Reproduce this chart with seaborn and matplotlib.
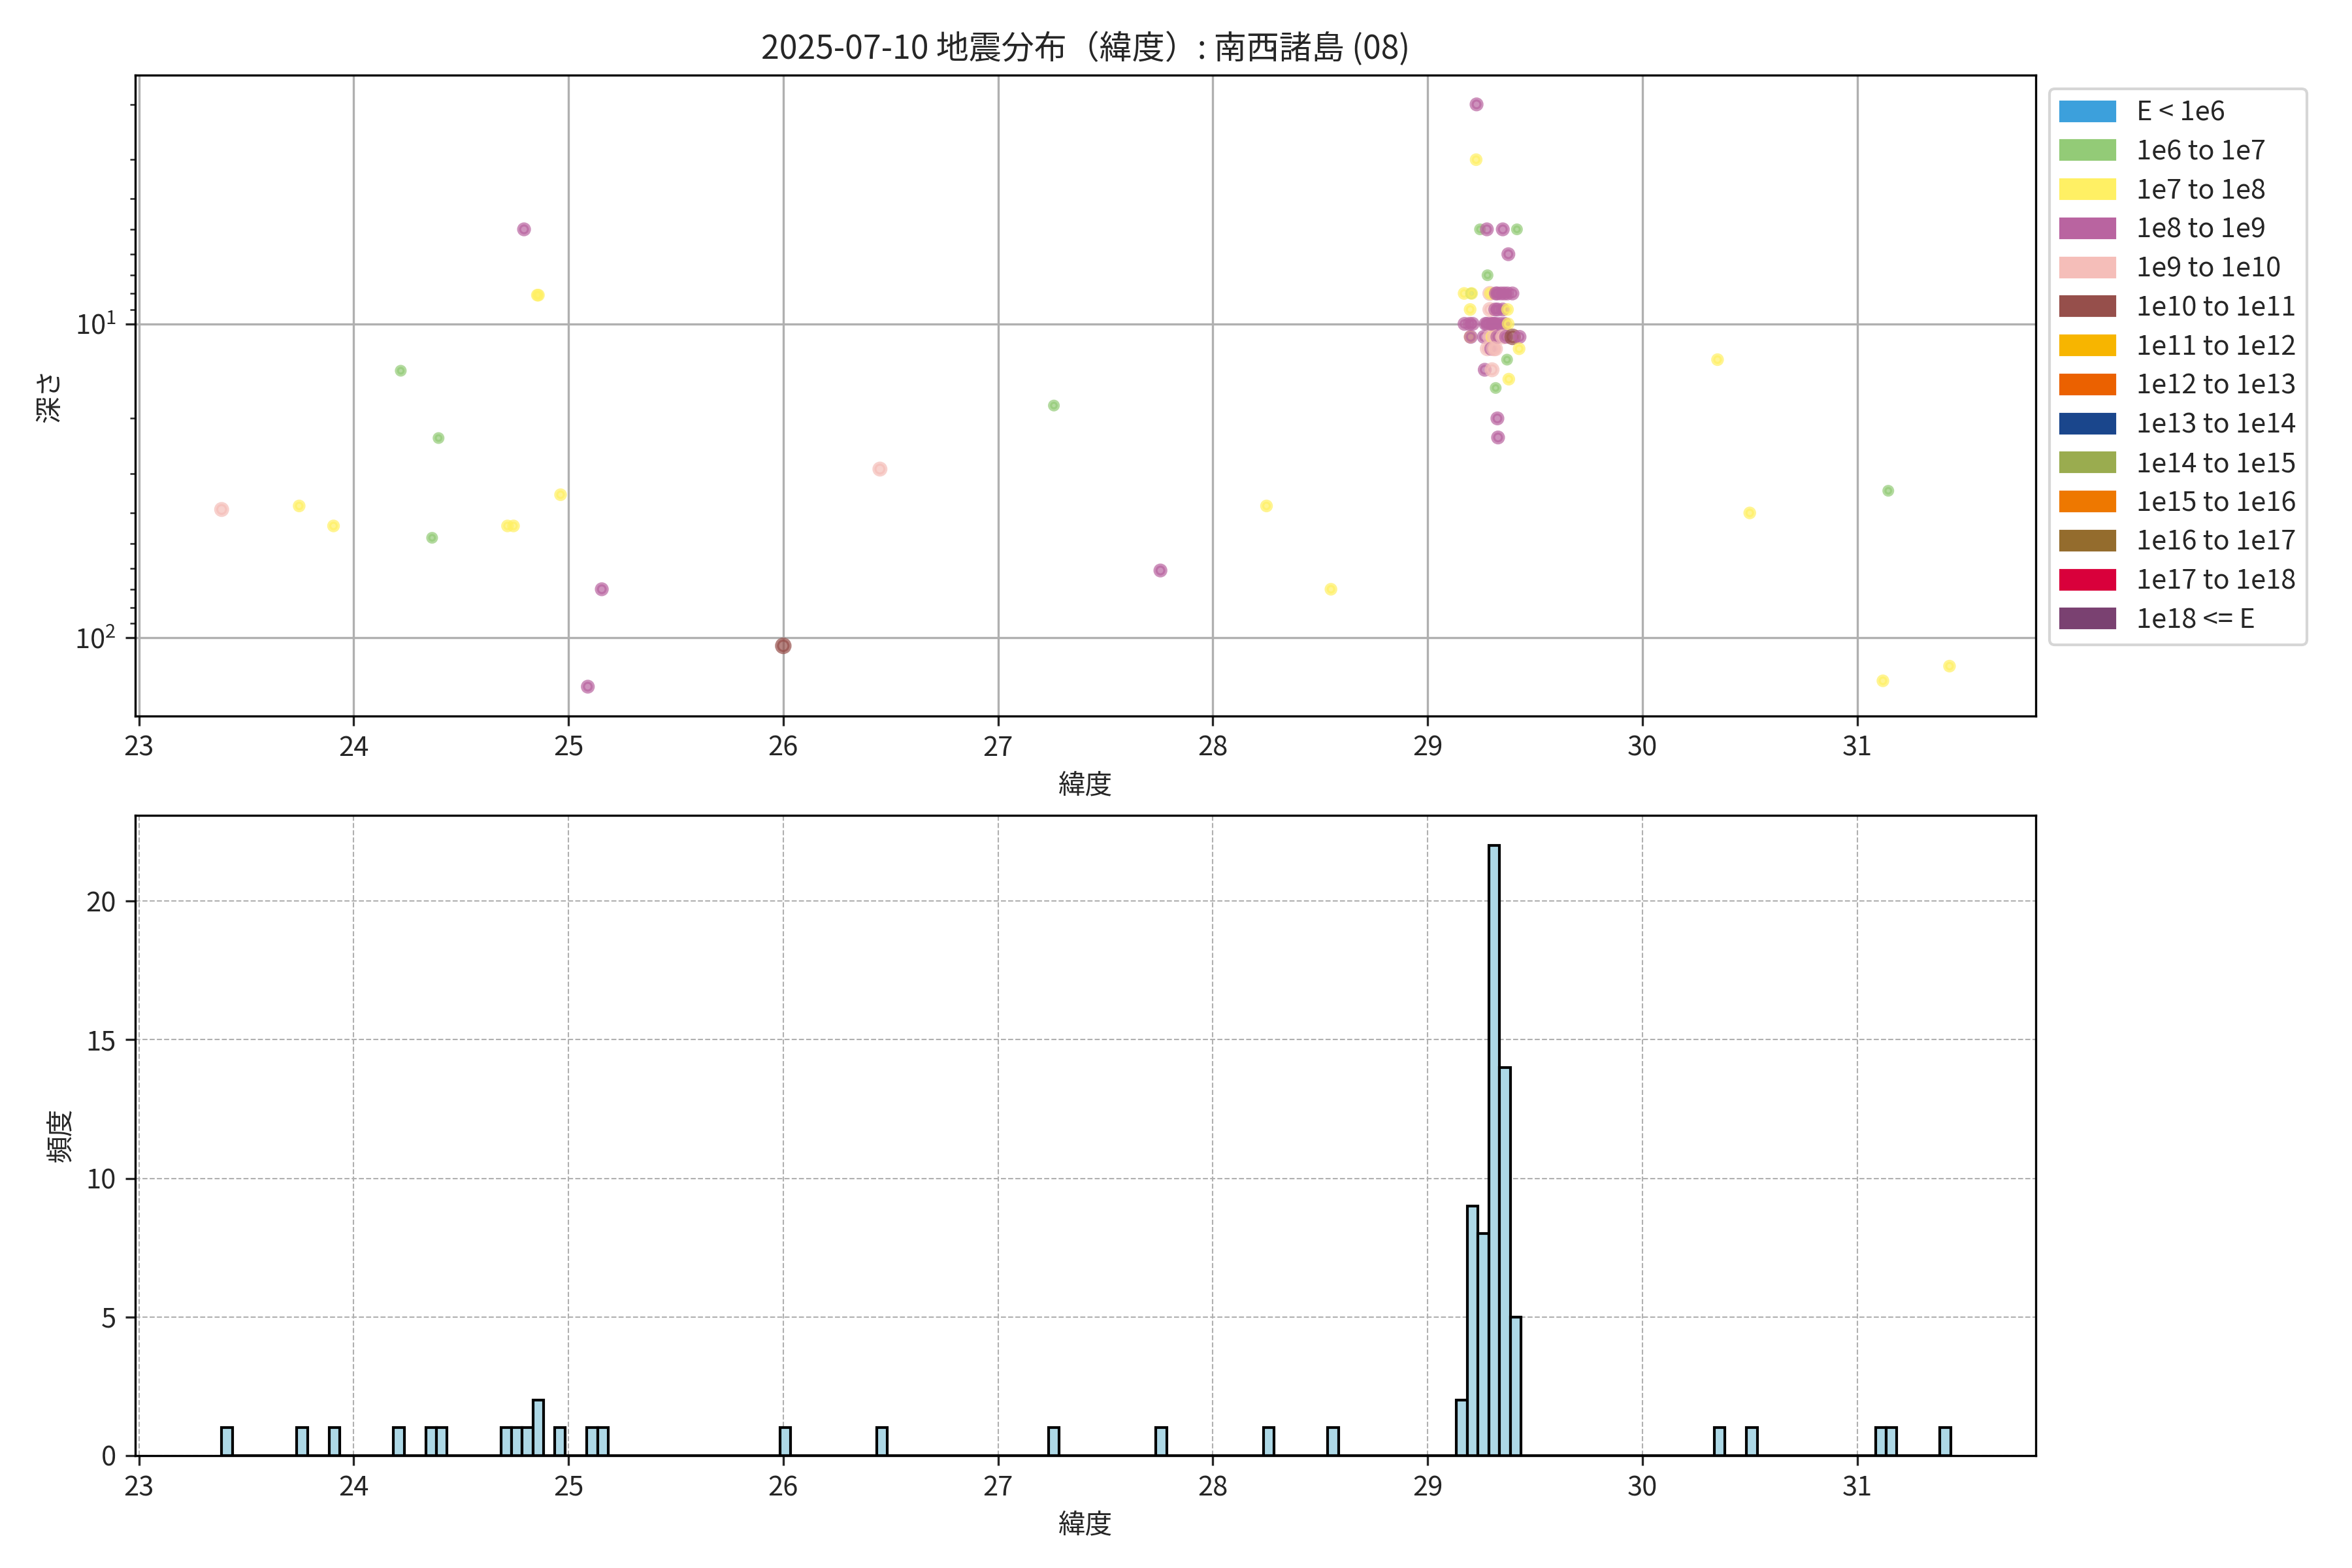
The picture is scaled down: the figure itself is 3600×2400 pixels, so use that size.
import numpy as np
import pandas as pd
import matplotlib
matplotlib.use("Agg")
import matplotlib.pyplot as plt
from matplotlib.patches import Patch
import seaborn as sns

# エネルギー階級のラベルと色
energy_labels = ["E < 1e6", "1e6 to 1e7", "1e7 to 1e8", "1e8 to 1e9", "1e9 to 1e10",
                 "1e10 to 1e11", "1e11 to 1e12", "1e12 to 1e13", "1e13 to 1e14",
                 "1e14 to 1e15", "1e15 to 1e16", "1e16 to 1e17", "1e17 to 1e18", "1e18 <= E"]
energy_colors = ["#3ca0dc", "#93cb77", "#fff064", "#b964a0", "#f5beb9",
                 "#964f4b", "#f7b500", "#eb6100", "#1a468c",
                 "#9aac4f", "#ee7800", "#946c2d", "#d9003b", "#7a4171"]

# 震源データ（緯度・深さ・エネルギー階級）
lat = [23.385, 23.746, 23.906, 24.219, 24.365, 24.395, 24.716, 24.744, 24.793, 24.855,
       24.860, 24.963, 25.090, 25.155, 26.000, 26.450, 27.260, 27.756, 28.250, 28.550,
       29.170, 29.172,
       29.203, 29.198, 29.210, 29.198, 29.201, 29.228, 29.226, 29.195, 29.205,
       29.244, 29.276, 29.262, 29.266, 29.277, 29.278, 29.279, 29.270,
       29.290, 29.292, 29.290, 29.315, 29.310, 29.290, 29.300, 29.296, 29.316, 29.300,
       29.317, 29.325, 29.328, 29.320, 29.305, 29.318, 29.312, 29.325, 29.308, 29.326,
       29.295, 29.325,
       29.342, 29.357, 29.372, 29.350, 29.376, 29.350, 29.372, 29.340, 29.360, 29.375,
       29.350, 29.370, 29.378, 29.365,
       29.416, 29.395, 29.396, 29.428, 29.426,
       30.350, 30.500, 31.120, 31.145, 31.430]
depth = [39, 38, 44, 14.1, 48, 23.1, 44, 44, 5.0, 8.1,
         8.1, 35, 143, 70, 106, 29, 18.2, 61, 38, 70,
         8, 10,
         8, 9, 10, 11, 11, 2, 3, 10, 8,
         5, 5, 11, 14, 10, 12, 7, 10,
         8, 8, 9, 9, 10, 11, 11, 12, 12, 14,
         16, 20, 23, 10, 10, 8, 11, 11, 12, 9,
         10, 8,
         8, 8, 8, 5, 6, 9, 9, 10, 10, 10,
         11, 13, 15, 11,
         5, 8, 11, 11, 12,
         13, 40, 137, 34, 123]
energy_class = [4, 2, 2, 1, 1, 1, 2, 2, 3, 2,
                2, 2, 3, 3, 5, 4, 1, 3, 2, 2,
                2, 3,
                1, 2, 3, 2, 3, 3, 2, 3, 2,
                1, 3, 3, 3, 3, 4, 1, 3,
                4, 2, 4, 3, 3, 4, 2, 3, 4, 4,
                1, 3, 3, 3, 3, 3, 4, 3, 4, 3,
                3, 3,
                3, 3, 3, 3, 3, 3, 2, 3, 3, 2,
                4, 1, 2, 3,
                1, 3, 5, 3, 2,
                2, 2, 2, 1, 2]

df = pd.DataFrame({"lat": lat, "depth": depth,
                   "energy": [energy_labels[c] for c in energy_class]})
palette = dict(zip(energy_labels, energy_colors))
marker_sizes = {energy_labels[1]: 8, energy_labels[2]: 10, energy_labels[3]: 13,
                energy_labels[4]: 16, energy_labels[5]: 21}

sns.set_style("white")
plt.rcParams['font.family'] = ['Noto Sans CJK JP', 'DejaVu Sans']
plt.rcParams['axes.unicode_minus'] = False

fig, (ax1, ax2) = plt.subplots(2, 1, figsize=(12, 8), dpi=300)
fig.subplots_adjust(left=0.0575, right=0.8656, top=0.952, bottom=0.0717, hspace=0.155)

# 上段：緯度と深さの散布図
sns.scatterplot(data=df, x="lat", y="depth", hue="energy", palette=palette,
                size="energy", sizes=marker_sizes, alpha=0.7,
                edgecolor="face", linewidth=1.5, legend=False, ax=ax1)
ax1.set_yscale("log")
ax1.invert_yaxis()
ax1.grid(True, color="#b0b0b0", linewidth=0.8)
ax1.set_title("2025-07-10 地震分布（緯度）: 南西諸島 (08)", fontsize=12)
ax1.set_xlabel("緯度")
ax1.set_ylabel("深さ")
ax1.tick_params(axis="both", which="both", direction="out", left=True, bottom=True)
for s in ax1.spines.values():
    s.set_color("black")
    s.set_linewidth(0.8)

handles = [Patch(color=c, label=l) for l, c in zip(energy_labels, energy_colors)]
ax1.legend(handles=handles, loc="upper left", bbox_to_anchor=(1.0, 1.0),
           fontsize=10, labelspacing=0.45)

# 下段：緯度のヒストグラム（0.05度刻み）
bin_edges = np.arange(min(lat), max(lat) + 0.05, 0.05)
sns.histplot(x=lat, bins=bin_edges, color="lightblue", edgecolor="black",
             linewidth=1.0, alpha=1.0, ax=ax2)
ax2.set_xlim(ax1.get_xlim())
ax2.grid(True, linestyle="--", linewidth=0.5, color="#b0b0b0")
ax2.set_axisbelow(True)
ax2.set_xlabel("緯度")
ax2.set_ylabel("頻度")
ax2.tick_params(axis="both", direction="out", left=True, bottom=True)
for s in ax2.spines.values():
    s.set_color("black")
    s.set_linewidth(0.8)

fig.savefig("out.png", dpi=300)
